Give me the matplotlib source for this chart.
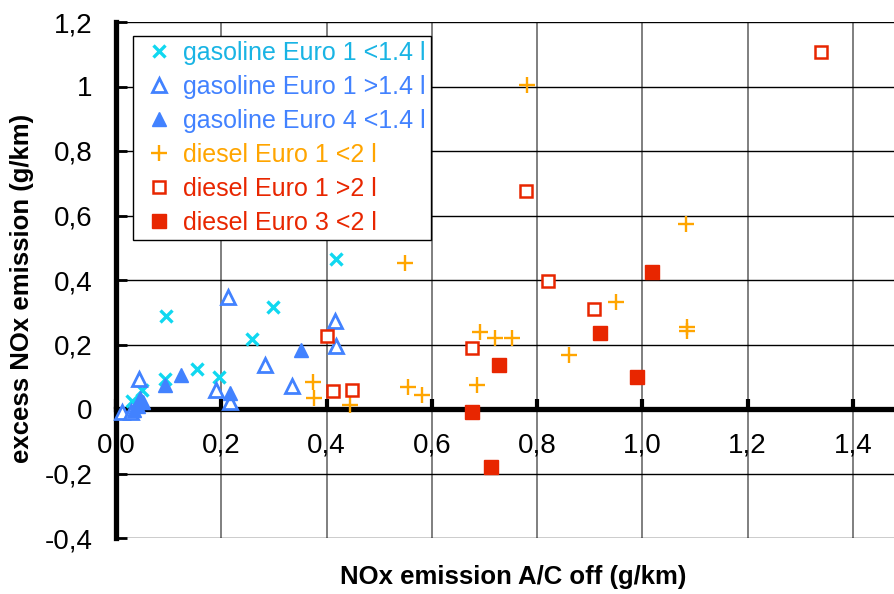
import matplotlib
matplotlib.use("Agg")
import matplotlib.pyplot as plt
from matplotlib.ticker import FixedLocator, FuncFormatter

plt.rcParams["font.family"] = ["Liberation Sans", "DejaVu Sans"]

# data (x: NOx A/C off, y: excess NOx), g/km
gas_e1_small_x = [0.418, 0.095, 0.298, 0.258, 0.153, 0.093, 0.196, 0.049, 0.030]
gas_e1_small_y = [0.465, 0.289, 0.315, 0.216, 0.123, 0.092, 0.100, 0.060, 0.025]

gas_e1_large_x = [0.212, 0.417, 0.418, 0.284, 0.334, 0.190, 0.217, 0.044, 0.012, 0.028]
gas_e1_large_y = [0.346, 0.273, 0.195, 0.136, 0.071, 0.059, 0.023, 0.093, -0.008, -0.008]

gas_e4_small_x = [0.351, 0.123, 0.094, 0.217, 0.045, 0.052, 0.042, 0.035]
gas_e4_small_y = [0.183, 0.105, 0.074, 0.051, 0.034, 0.022, 0.008, -0.003]

die_e1_small_x = [0.781, 1.083, 0.550, 0.950, 1.084, 1.084, 0.692, 0.721, 0.753,
                  0.861, 0.375, 0.376, 0.445, 0.554, 0.581, 0.685]
die_e1_small_y = [1.005, 0.573, 0.454, 0.333, 0.255, 0.243, 0.238, 0.220, 0.220,
                  0.168, 0.083, 0.033, 0.013, 0.069, 0.042, 0.075]

die_e1_large_x = [1.339, 0.779, 0.820, 0.909, 0.676, 0.400, 0.412, 0.449]
die_e1_large_y = [1.108, 0.676, 0.398, 0.310, 0.190, 0.226, 0.056, 0.059]

die_e3_small_x = [1.019, 0.919, 0.728, 0.990, 0.676, 0.712]
die_e3_small_y = [0.424, 0.235, 0.137, 0.098, -0.010, -0.181]

x_ticks = [0.0, 0.2, 0.4, 0.6, 0.8, 1.0, 1.2, 1.4]
y_ticks = [-0.4, -0.2, 0.0, 0.2, 0.4, 0.6, 0.8, 1.0, 1.2]

cyan = "#10D8F0"
cyan_txt = "#19B4E4"
blue = "#4282FF"
orange = "#FFA500"
red = "#E82600"

fig = plt.figure(figsize=(8.95, 5.94), dpi=100)
ax = fig.add_axes([116 / 895, 1 - 538 / 594, 1 - 116 / 895, (538 - 22) / 594])

ax.plot(gas_e1_small_x, gas_e1_small_y, "x", color=cyan, ms=8, mew=2.4,
        label="gasoline Euro 1 <1.4 l", clip_on=False, zorder=3)
ax.plot(gas_e1_large_x, gas_e1_large_y, "^", mfc="white", mec=blue, ms=10, mew=2.0,
        label="gasoline Euro 1 >1.4 l", clip_on=False, zorder=3)
ax.plot(gas_e4_small_x, gas_e4_small_y, "^", color=blue, ms=10,
        label="gasoline Euro 4 <1.4 l", clip_on=False, zorder=3)
ax.plot(die_e1_small_x, die_e1_small_y, "+", color=orange, ms=12, mew=1.7,
        label="diesel Euro 1 <2 l", clip_on=False, zorder=3)
ax.plot(die_e1_large_x, die_e1_large_y, "s", mfc="white", mec=red, ms=9, mew=1.8,
        label="diesel Euro 1 >2 l", clip_on=False, zorder=3)
ax.plot(die_e3_small_x, die_e3_small_y, "s", color=red, ms=10,
        label="diesel Euro 3 <2 l", clip_on=False, zorder=3)

ax.set_xlim(0, 779 / 526.3)
ax.set_ylim(-0.4, 1.2)

ax.xaxis.set_major_locator(FixedLocator(x_ticks))
ax.yaxis.set_major_locator(FixedLocator(y_ticks))
ax.xaxis.set_major_formatter(FuncFormatter(lambda v, p: f"{v:.1f}".replace(".", ",")))


def yfmt(v, p):
    if abs(v) < 1e-9:
        return "0"
    if abs(v - round(v)) < 1e-9:
        return f"{int(round(v))}"
    return f"{v:.1f}".replace(".", ",")


ax.yaxis.set_major_formatter(FuncFormatter(yfmt))

# grid: dark horizontal, gray vertical
ax.yaxis.grid(True, color="black", lw=1.0)
ax.xaxis.grid(True, color="#7f7f7f", lw=1.4)
ax.set_axisbelow(True)

ax.spines["top"].set_visible(False)
ax.spines["right"].set_visible(False)
ax.spines["bottom"].set_position(("data", 0))
ax.spines["bottom"].set_linewidth(3.8)
ax.spines["bottom"].set_zorder(2.5)
ax.spines["left"].set_linewidth(3.8)

ax.tick_params(axis="x", direction="in", length=7, width=3, pad=17, labelsize=20)
ax.tick_params(axis="y", direction="in", length=8, width=2, pad=17, labelsize=20)

fig.text(22 / 895, 1 - 288 / 594, "excess NOx emission (g/km)", rotation=90,
         ha="center", va="center", fontsize=18.5, fontweight="bold")
fig.text(513 / 895, 1 - 577 / 594, "NOx emission A/C off (g/km)",
         ha="center", va="center", fontsize=18.5, fontweight="bold")

leg = ax.legend(loc="upper left", bbox_to_anchor=(133 / 895, 1 - 36 / 594),
                bbox_transform=fig.transFigure, fontsize=18, frameon=True,
                fancybox=False, edgecolor="black", framealpha=1,
                borderaxespad=0, handlelength=1.7, handletextpad=0.1,
                labelspacing=0.4, borderpad=0.2)
leg.get_frame().set_linewidth(1.0)
text_colors = [cyan_txt, blue, blue, orange, red, red]
for txt, c in zip(leg.get_texts(), text_colors):
    txt.set_color(c)

fig.savefig("out.png", dpi=100)
